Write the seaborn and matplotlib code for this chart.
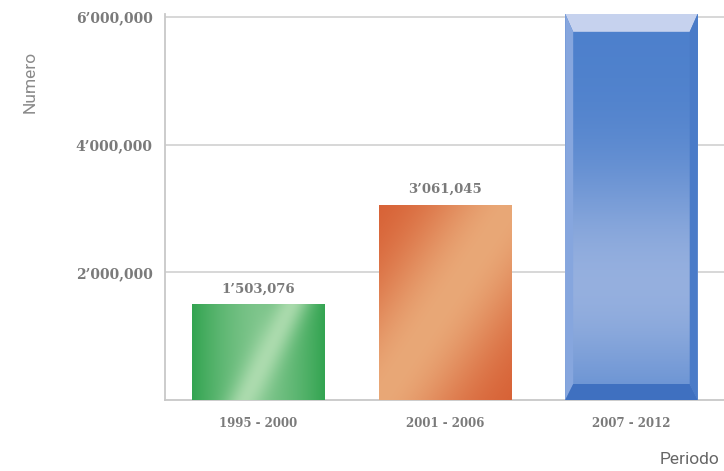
import numpy as np
import pandas as pd
import matplotlib
matplotlib.use('Agg')
import matplotlib.pyplot as plt
import seaborn as sns
from matplotlib.colors import to_rgb
from matplotlib.patches import Polygon

# ---- data ----
periodos = ['1995 - 2000', '2001 - 2006', '2007 - 2012']
valores = [1503076, 3061045, 6050000]
etiquetas = ['1\u2019503,076', '3\u2019061,045', '']
yticks = [2000000, 4000000, 6000000]
ytick_labels = ['2\u2019000,000', '4\u2019000,000', '6\u2019000,000']
colores = ['#3fae5e', '#dc6a40', '#4f82cc']

sns.set_theme(style='white')
serif = {'family': 'DejaVu Serif', 'weight': 'bold'}

fig = plt.figure(figsize=(7.24, 4.71), dpi=100)
ax = fig.add_axes([0.228, 0.1507, 0.773, 0.82])
df = pd.DataFrame({'Periodo': periodos, 'Numero': valores})
sns.barplot(data=df, x='Periodo', y='Numero', hue='Periodo', palette=colores,
            width=0.71, saturation=1, legend=False, ax=ax, zorder=3)
ax.set_xlim(-0.5, 2.5)
ax.set_ylim(0, 6.05e6)


def blend(c1, c2, t):
    c1 = np.array(to_rgb(c1)); c2 = np.array(to_rgb(c2))
    return c1 + (c2 - c1) * t[..., None]


N = 120
X, Y = np.meshgrid(np.linspace(0, 1, N), np.linspace(0, 1, N))

# green: diagonal light streak
side = np.abs(X - 0.5) * 2
base_g = blend('#7cc48a', '#33a451', side ** 1.5)
xc = 0.4 + 0.35 * Y
streak = np.exp(-((X - xc) / 0.13) ** 2)
img_g = base_g + (np.array(to_rgb('#b4dfb4')) - base_g) * (0.85 * streak)[..., None]

# orange: dark corners, light diagonal
s = (X - Y + 1) / 2
img_o = blend('#d65c31', '#e9a877', np.exp(-((s - 0.5) / 0.32) ** 2))

# blue body
img_b = blend('#4d80cc', '#a2b8e2', np.exp(-((Y - 0.3) / 0.3) ** 2) * 0.85)

imgs = [img_g, img_o, img_b]
bars = [p for p in ax.patches]
for p, img in zip(bars, imgs):
    x0, y0, w, h = p.get_x(), p.get_y(), p.get_width(), p.get_height()
    im = ax.imshow(np.clip(img, 0, 1), extent=[x0, x0 + w, y0, y0 + h], origin='lower',
                   aspect='auto', zorder=3.5, interpolation='bilinear')
    im.set_clip_path(p)
    p.set_edgecolor('none')

# bevels for the blue bar
p = bars[2]
x0, y0, w, h = p.get_x(), p.get_y(), p.get_width(), p.get_height()
x1, y1 = x0 + w, y0 + h
dx = w * 8 / 133
dht = 6.05e6 * 18 / 386
dhb = 6.05e6 * 16 / 386
ax.add_patch(Polygon([(x0, y1), (x1, y1), (x1 - dx, y1 - dht), (x0 + dx, y1 - dht)],
                     closed=True, fc='#c6d2ee', ec='none', zorder=4))
ax.add_patch(Polygon([(x0, y0), (x0 + dx, y0 + dhb), (x0 + dx, y1 - dht), (x0, y1)],
                     closed=True, fc='#86a6de', ec='none', zorder=4))
ax.add_patch(Polygon([(x1, y0), (x1 - dx, y0 + dhb), (x1 - dx, y1 - dht), (x1, y1)],
                     closed=True, fc='#4a7bc8', ec='none', zorder=4))
ax.add_patch(Polygon([(x0, y0), (x1, y0), (x1 - dx, y0 + dhb), (x0 + dx, y0 + dhb)],
                     closed=True, fc='#3f70c0', ec='none', zorder=4))

ax.set_xlim(-0.5, 2.5)
ax.set_ylim(0, 6.05e6)

# value labels
for i, (v, lab) in enumerate(zip(valores, etiquetas)):
    if lab:
        ax.annotate(lab, (i, v), xytext=(0, 11), textcoords='offset points',
                    ha='center', va='center', color='#7a7a7a', fontsize=9.5, **serif)

# axes styling
ax.set_yticks(yticks, ytick_labels)
ax.yaxis.grid(True, color='#d4d4d4', linewidth=1.3, zorder=0)
ax.set_axisbelow(True)
for sp in ['top', 'right']:
    ax.spines[sp].set_visible(False)
for sp in ['left', 'bottom']:
    ax.spines[sp].set_color('#c8c8c8')
    ax.spines[sp].set_linewidth(1.3)
ax.tick_params(axis='y', length=0, pad=9, labelcolor='#7a7a7a')
ax.tick_params(axis='x', length=0, pad=12, labelcolor='#7a7a7a')
for t in ax.get_yticklabels():
    t.set_fontfamily('DejaVu Serif')
    t.set_fontweight('semibold')
    t.set_fontsize(10)
for t in ax.get_xticklabels():
    t.set_fontfamily('DejaVu Serif')
    t.set_fontweight('bold')
    t.set_fontsize(8.5)
ax.set_xlabel('')
ax.set_ylabel('')

fig.text(30 / 724, 1 - 82 / 471, 'Numero', rotation=90, ha='center', va='center',
         fontsize=12.5, color='#8a8a8a', family='Roboto')
fig.text(719 / 724, 1 - 459 / 471, 'Periodo', ha='right', va='center',
         fontsize=12.5, color='#666666', family='Roboto')

fig.savefig('out.png', dpi=100)
